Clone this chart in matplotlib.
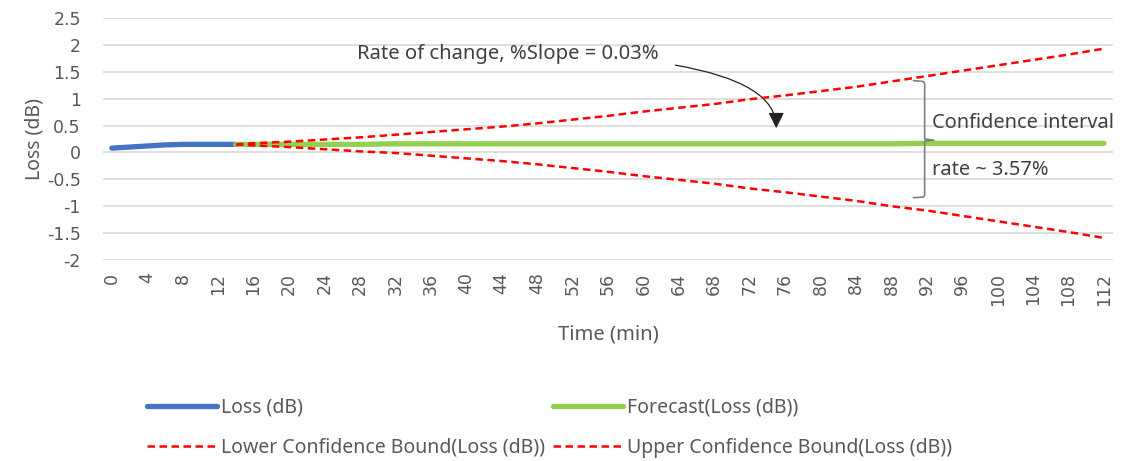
import numpy as np
import matplotlib.pyplot as plt

# observed loss
t_loss = [0, 2, 4, 6, 8, 10, 12, 14]
loss = [0.08, 0.10, 0.12, 0.14, 0.15, 0.15, 0.15, 0.15]

# forecast + confidence bounds
t_fc = [14, 16, 20, 24, 28, 32, 36, 40, 44, 48, 52, 56, 60, 64,
        68, 72, 76, 80, 84, 88, 92, 96, 100, 104, 108, 112]
forecast = [0.15, 0.15, 0.15, 0.15, 0.15, 0.16, 0.16, 0.16, 0.16, 0.16, 0.16, 0.16, 0.16, 0.16,
            0.16, 0.16, 0.16, 0.16, 0.16, 0.16, 0.17, 0.17, 0.17, 0.17, 0.17, 0.17]
upper = [0.15, 0.17, 0.20, 0.24, 0.28, 0.33, 0.38, 0.43, 0.48, 0.54, 0.61, 0.68, 0.76, 0.83,
         0.90, 0.99, 1.06, 1.14, 1.22, 1.32, 1.42, 1.52, 1.62, 1.72, 1.82, 1.93]
lower = [0.15, 0.13, 0.10, 0.06, 0.02, -0.01, -0.06, -0.11, -0.16, -0.22, -0.29, -0.36, -0.44, -0.51,
         -0.58, -0.67, -0.74, -0.82, -0.90, -1.00, -1.08, -1.18, -1.28, -1.38, -1.48, -1.59]

xticks = list(range(0, 113, 4))
yticks = [-2, -1.5, -1, -0.5, 0, 0.5, 1, 1.5, 2, 2.5]

txt_font = ['Noto Sans', 'DejaVu Sans']
ann_font = ['Noto Sans', 'DejaVu Sans']
grey = '#595959'

fig = plt.figure(figsize=(11.23, 4.61), dpi=100)
ax = fig.add_axes([0.0917, 0.436, 0.8993, 0.525])

ax.plot(t_loss, loss, color='#4472C4', lw=3.8, solid_capstyle='round', label='Loss (dB)', zorder=3)
ax.plot(t_fc, forecast, color='#92D050', lw=3.8, solid_capstyle='round', label='Forecast(Loss (dB))', zorder=3)
ax.plot(t_fc, lower, color='#FF0000', lw=1.8, dashes=(3, 1.8), label='Lower Confidence Bound(Loss (dB))', zorder=4)
ax.plot(t_fc, upper, color='#FF0000', lw=1.8, dashes=(3, 1.8), label='Upper Confidence Bound(Loss (dB))', zorder=4)

ax.set_xlim(-1, 113)
ax.set_ylim(-2, 2.5)
ax.set_xticks(xticks)
ax.set_xticklabels([str(v) for v in xticks], rotation=90)
ax.set_yticks(yticks)
ax.set_yticklabels(['%g' % v for v in yticks])
ax.tick_params(axis='both', length=0, labelsize=12.5, labelcolor=grey)
ax.tick_params(axis='y', pad=16)
ax.tick_params(axis='x', pad=9)
ax.grid(axis='y', color='#d9d9d9', lw=1.2)
ax.set_axisbelow(True)
for s in ax.spines.values():
    s.set_visible(False)

ax.set_ylabel('Loss (dB)', fontsize=14, color=grey, family=txt_font, labelpad=2)
ax.set_xlabel('Time (min)', fontsize=14.5, color=grey, family=txt_font, labelpad=14)

# slope annotation with curved arrow
ax.annotate('Rate of change, %Slope = 0.03%', xy=(75, 0.45), xytext=(27.7, 1.83),
            fontsize=14.6, color='#404040', family=ann_font, ha='left', va='center',
            arrowprops=dict(arrowstyle='-|>', color='#222222', lw=0.9, mutation_scale=24,
                            connectionstyle='angle3,angleA=0,angleB=90',
                            shrinkA=10, shrinkB=0))

# brace for the confidence interval
bx = [90.5, 91.6, 91.75, 91.75, 92.8, 91.75, 91.75, 91.6, 90.5]
by = [1.335, 1.32, 1.28, 0.25, 0.23, 0.21, -0.80, -0.83, -0.84]
ax.plot(bx, by, color='#7f7f7f', lw=1.2, zorder=5)
ax.text(92.6, 0.55, 'Confidence interval', fontsize=14.4, color='#404040', family=ann_font, va='center')
ax.text(92.6, -0.33, 'rate ~ 3.57%', fontsize=14.4, color='#404040', family=ann_font, va='center')

h, l = ax.get_legend_handles_labels()
order = [0, 2, 1, 3]
fig.legend([h[i] for i in order], [l[i] for i in order], ncol=2, loc='upper left',
           bbox_to_anchor=(0.124, 0.155), frameon=False,
           prop={'family': txt_font, 'size': 14}, labelcolor=grey,
           handlelength=3.6, handletextpad=0.2, columnspacing=0.4, labelspacing=1.05,
           borderaxespad=0)

fig.savefig('out.png', dpi=100)
